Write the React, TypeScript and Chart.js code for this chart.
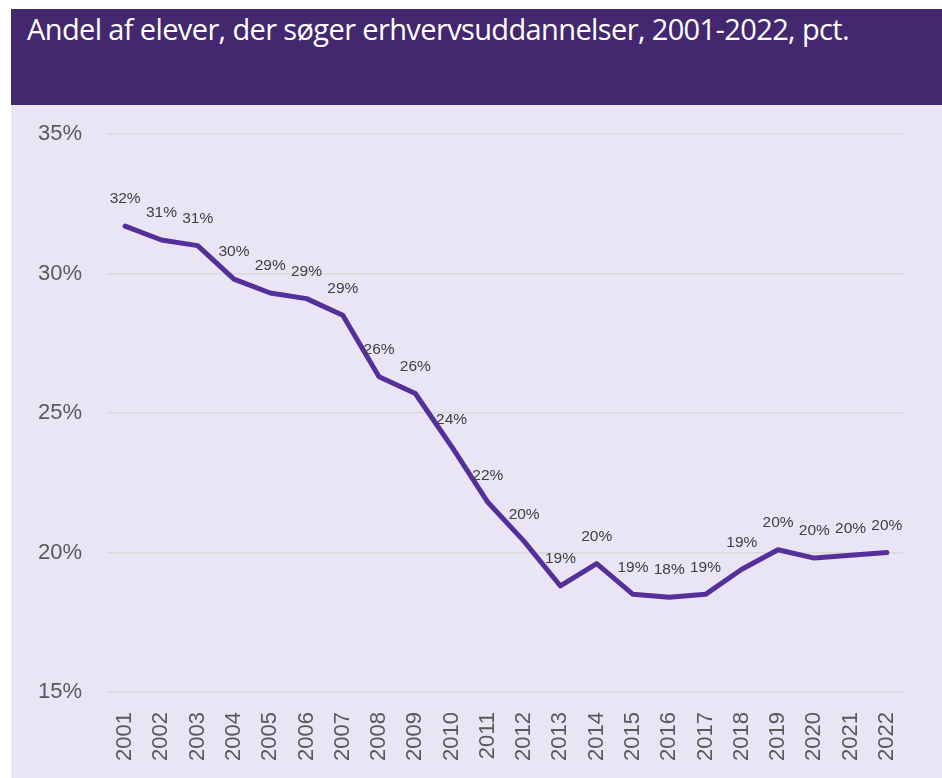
import React, { useEffect, useRef } from "react";
import { Chart, registerables } from "chart.js";

Chart.register(...registerables);

const years: string[] = [
  "2001", "2002", "2003", "2004", "2005", "2006", "2007", "2008", "2009", "2010", "2011",
  "2012", "2013", "2014", "2015", "2016", "2017", "2018", "2019", "2020", "2021", "2022",
];
const shares: number[] = [
  31.7, 31.2, 31.0, 29.8, 29.3, 29.1, 28.5, 26.3, 25.7, 23.8, 21.8,
  20.4, 18.8, 19.6, 18.5, 18.4, 18.5, 19.4, 20.1, 19.8, 19.9, 20.0,
];
const yTicks: number[] = [15, 20, 25, 30, 35];
const title = "Andel af elever, der søger erhvervsuddannelser, 2001-2022, pct.";

const LINE = "#55309a";
const BAR = "#43286f";
const BG = "#e9e5f5";

const labelPlugin = {
  id: "pointLabels",
  afterDatasetsDraw(chart: any) {
    const ctx = chart.ctx;
    const meta = chart.getDatasetMeta(0);
    ctx.save();
    ctx.font = "15.5px 'Liberation Sans', Arial, sans-serif";
    ctx.fillStyle = "#404040";
    ctx.textAlign = "center";
    ctx.textBaseline = "middle";
    meta.data.forEach((pt: any, i: number) => {
      const v = shares[i];
      ctx.fillText(Math.round(v) + "%", pt.x, pt.y - 27);
    });
    ctx.restore();
  },
};

export default function App() {
  const ref = useRef<HTMLCanvasElement | null>(null);
  useEffect(() => {
    if (!ref.current) return;
    const chart = new Chart(ref.current, {
      type: "line",
      data: {
        labels: years,
        datasets: [
          {
            data: shares,
            borderColor: LINE,
            borderWidth: 5,
            pointRadius: 0,
            tension: 0,
            fill: false,
            borderCapStyle: "round",
            borderJoinStyle: "round",
          },
        ],
      },
      options: {
        animation: false,
        responsive: false,
        maintainAspectRatio: false,
        layout: { padding: { top: 29, right: 37, left: 27, bottom: 0 } },
        plugins: { legend: { display: false }, tooltip: { enabled: false } },
        scales: {
          x: {
            offset: true,
            grid: { display: false, drawTicks: false },
            border: { display: false },
            ticks: {
              minRotation: 90,
              maxRotation: 90,
              autoSkip: false,
              padding: 20,
              color: "#595959",
              font: { family: "'Liberation Sans', Arial, sans-serif", size: 22 },
            },
            afterFit: (s: any) => {
              s.height = 86;
            },
          },
          y: {
            min: 15,
            max: 35,
            afterBuildTicks: (s: any) => {
              s.ticks = yTicks.map((v) => ({ value: v }));
            },
            grid: { color: "#d9d9d9", lineWidth: 1.5, drawTicks: false },
            border: { display: false },
            ticks: {
              padding: 0,
              crossAlign: "far",
              color: "#595959",
              font: { family: "'Liberation Sans', Arial, sans-serif", size: 22 },
              callback: (v: any) => v + "%",
            },
            afterFit: (s: any) => {
              s.width = 69;
            },
          },
        },
      },
      plugins: [labelPlugin],
    });
    return () => chart.destroy();
  }, []);

  return (
    <div
      style={{
        position: "absolute",
        left: 11,
        top: 9,
        width: 931,
        height: 769,
        background: BG,
      }}
    >
      <div
        style={{
          height: 96,
          background: BAR,
          color: "#ffffff",
          fontFamily: "'Open Sans', sans-serif",
          fontSize: 29,
          lineHeight: "1",
          paddingLeft: 16,
          paddingTop: 5,
          boxSizing: "border-box",
          whiteSpace: "nowrap",
          letterSpacing: -0.62,
        }}
      >
        {title}
      </div>
      <canvas ref={ref} width={931} height={673} style={{ display: "block", width: 931, height: 673 }} />
    </div>
  );
}
